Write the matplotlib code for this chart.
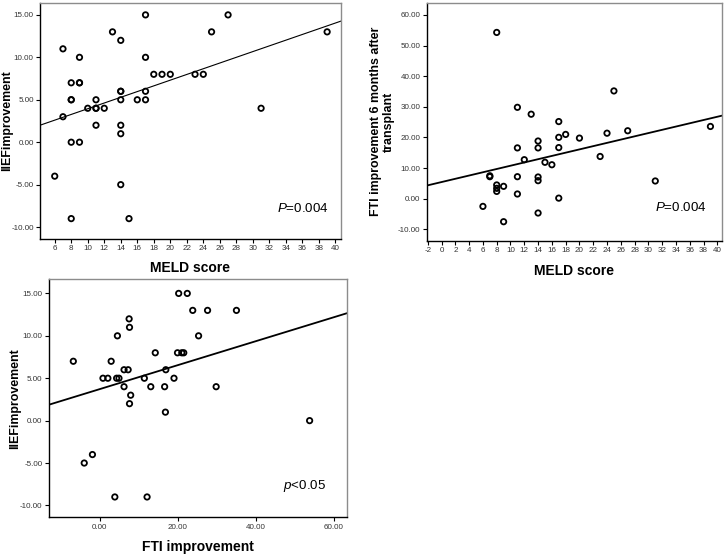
import numpy as np
import matplotlib
matplotlib.use("Agg")
import matplotlib.pyplot as plt

plt.rcParams['font.family'] = ['Liberation Sans', 'DejaVu Sans']
plt.rcParams['mathtext.fontset'] = 'custom'
plt.rcParams['mathtext.it'] = 'Liberation Sans:italic'
plt.rcParams['mathtext.rm'] = 'Liberation Sans'
plt.rcParams['axes.unicode_minus'] = False

# panel A: MELD score vs IIEF improvement
meld_a = [6, 7, 7, 8, 8, 8, 8, 8, 9, 9, 9, 9, 10, 11, 11, 11, 11, 12, 13,
          14, 14, 14, 14, 14, 14, 14, 15, 16, 17, 17, 17, 17, 18, 19, 20,
          23, 24, 25, 27, 31, 39]
iief_a = [-4, 11, 3, 7, 5, 5, 0, -9, 10, 7, 7, 0, 4, 5, 4, 4, 2, 4, 13,
          12, 6, 6, 5, 2, 1, -5, -9, 5, 15, 10, 6, 5, 8, 8, 8,
          8, 8, 13, 15, 4, 13]
fit_a = (0.3365, 0.58)   # slope, intercept

# panel B: MELD score vs FTI improvement
meld_b = [8, 25, 11, 13, 17, 39, 27, 24, 18, 17, 20, 14, 11, 14, 17, 23,
          12, 15, 16, 7, 7, 11, 14, 14, 31, 8, 8, 8, 9, 11, 17, 6, 14, 9]
fti_b = [54.3, 35.2, 29.85, 27.6, 25.2, 23.6, 22.2, 21.4, 21.0, 20.05, 19.8,
         18.85, 16.6, 16.6, 16.7, 13.8, 12.75, 11.9, 11.1, 7.5, 7.2, 7.2,
         7.1, 5.9, 5.8, 4.5, 3.4, 2.4, 4.05, 1.55, 0.2, -2.5, -4.66, -7.5]
fit_b = (0.533, 5.45)

# panel C: FTI improvement vs IIEF improvement
fti_c = [-6.8, -4.0, -1.9, 0.8, 2.05, 2.9, 3.84, 4.5, 4.3, 4.9, 6.2, 6.2,
         7.25, 7.5, 7.6, 7.6, 7.9, 11.4, 12.1, 13.05, 14.2, 16.6, 16.8,
         16.9, 19.0, 19.9, 20.2, 21.0, 21.5, 22.4, 23.8, 25.3, 27.6, 29.8,
         35.0, 53.75]
iief_c = [7, -5, -4, 5, 5, 7, -9, 10, 5, 5, 6, 4, 6, 12, 11, 2, 3, 5, -9,
          4, 8, 4, 1, 6, 5, 8, 15, 8, 8, 15, 13, 10, 13, 4, 13, 0]
fit_c = (0.1413, 3.72)

fig = plt.figure(figsize=(7.25, 5.55), dpi=100)

def style(ax):
    for s in ['top', 'right']:
        ax.spines[s].set_color('#8c8c8c')
    for s in ['left', 'bottom']:
        ax.spines[s].set_color('black')
    for s in ax.spines.values():
        s.set_linewidth(1.0)
    ax.tick_params(direction='out', length=3, width=0.8, labelsize=5.8,
                   colors='black', labelcolor='#333333', pad=1.5)

def scatter(ax, x, y, fit, lw):
    ax.scatter(x, y, s=15, facecolors='none', edgecolors='black',
               linewidths=1.3, zorder=3)
    ax.axline((0, fit[1]), slope=fit[0], color='black', lw=lw, zorder=2)

xl = dict(fontsize=10, fontweight='bold')
yl = dict(fontsize=8.9, fontweight='bold')

# top-left
ax1 = fig.add_axes([0.0552, 0.5694, 0.4148, 0.4252])
scatter(ax1, meld_a, iief_a, fit_a, 0.8)
ax1.set_xlim(4.22, 40.65)
ax1.set_ylim(-11.4, 16.4)
ax1.set_xticks(np.arange(6, 41, 2))
ax1.set_yticks([-10, -5, 0, 5, 10, 15])
ax1.yaxis.set_major_formatter(lambda v, p: f"{v:.2f}")
ax1.set_xlabel('MELD score', labelpad=6, **xl)
ax1.set_ylabel('IIEFimprovement', va='center', **yl)
ax1.yaxis.set_label_coords(-0.11, 0.5)
ax1.text(0.96, 0.13, r'$\it{P}$=0.004', transform=ax1.transAxes,
         ha='right', va='center', fontsize=9.6)
style(ax1)

# top-right
ax2 = fig.add_axes([0.5886, 0.5663, 0.4069, 0.4288])
scatter(ax2, meld_b, fti_b, fit_b, 1.3)
ax2.set_xlim(-2.15, 40.64)
ax2.set_ylim(-13.7, 64)
ax2.set_xticks(np.arange(-2, 41, 2))
ax2.set_yticks(np.arange(-10, 61, 10))
ax2.yaxis.set_major_formatter(lambda v, p: f"{v:.2f}")
ax2.set_xlabel('MELD score', labelpad=7, **xl)
ax2.set_ylabel('FTI improvement 6 months after\ntransplant', va='center',
               linespacing=1.0, **yl)
ax2.yaxis.set_label_coords(-0.15, 0.5)
ax2.text(0.95, 0.14, r'$\it{P}$=0.004', transform=ax2.transAxes,
         ha='right', va='center', fontsize=9.6)
style(ax2)

# bottom-left
ax3 = fig.add_axes([0.0672, 0.0679, 0.4118, 0.4294])
scatter(ax3, fti_c, iief_c, fit_c, 1.3)
ax3.set_xlim(-13.1, 63.4)
ax3.set_ylim(-11.4, 16.7)
ax3.set_xticks([0, 20, 40, 60])
ax3.set_yticks([-10, -5, 0, 5, 10, 15])
ax3.xaxis.set_major_formatter(lambda v, p: f"{v:.2f}")
ax3.yaxis.set_major_formatter(lambda v, p: f"{v:.2f}")
ax3.set_xlabel('FTI improvement', labelpad=7, **xl)
ax3.set_ylabel('IIEFimprovement', va='center', **yl)
ax3.yaxis.set_label_coords(-0.111, 0.5)
ax3.text(0.93, 0.13, r'$\it{p}$<0.05', transform=ax3.transAxes,
         ha='right', va='center', fontsize=9.6)
style(ax3)

fig.savefig('out.png', dpi=100)
